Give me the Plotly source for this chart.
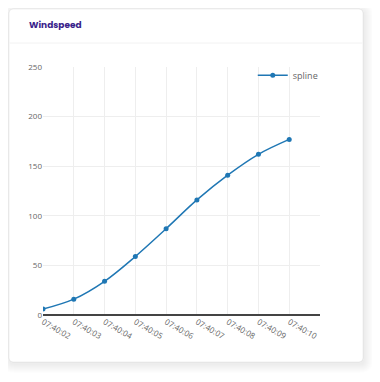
import plotly.graph_objects as go

times = ["07:40:02", "07:40:03", "07:40:04", "07:40:05", "07:40:06",
         "07:40:07", "07:40:08", "07:40:09", "07:40:10"]
windspeed = [6, 16, 34, 59, 87, 116, 141, 162, 177]
series_name = "spline"
chart_title = "Windspeed"

W, H = 364, 366
L, R, T, B = 35, 52, 59, 59
PW, PH = W - L - R, H - T - B


def px(x):
    return (x - L) / PW


def py(y):
    return (H - B - y) / PH


def rounded(x0, y0, x1, y1, r):
    pts = [
        f"M {px(x0 + r)},{py(y0)}",
        f"L {px(x1 - r)},{py(y0)}",
        f"Q {px(x1)},{py(y0)} {px(x1)},{py(y0 + r)}",
        f"L {px(x1)},{py(y1 - r)}",
        f"Q {px(x1)},{py(y1)} {px(x1 - r)},{py(y1)}",
        f"L {px(x0 + r)},{py(y1)}",
        f"Q {px(x0)},{py(y1)} {px(x0)},{py(y1 - r)}",
        f"L {px(x0)},{py(y0 + r)}",
        f"Q {px(x0)},{py(y0)} {px(x0 + r)},{py(y0)}",
        "Z",
    ]
    return " ".join(pts)


fig = go.Figure()
fig.add_trace(go.Scatter(
    x=list(range(len(times))), y=windspeed, name=series_name,
    mode="lines+markers", line=dict(shape="spline", color="#1f77b4", width=1.5),
    marker=dict(size=5, color="#1f77b4"), showlegend=True,
))

shapes = []
# soft card shadow
for o in range(9, 0, -1):
    shapes.append(dict(type="path", xref="paper", yref="paper",
                       path=rounded(1 - o + 1, 1 - o + 2, 355 + o + 1, 354 + o + 2, 4 + o),
                       fillcolor="rgba(0,0,0,0.009)", line=dict(width=0), layer="below"))
shapes.append(dict(type="path", xref="paper", yref="paper",
                   path=rounded(1, 1, 355, 354, 4),
                   fillcolor="white", line=dict(width=1, color="rgba(0,0,0,0.06)"), layer="below"))
shapes.append(dict(type="line", xref="paper", yref="paper",
                   x0=px(1.5), x1=px(354.5), y0=py(35), y1=py(35),
                   line=dict(width=1, color="#f2f2f2"), layer="below"))

fig.update_layout(
    width=W, height=H,
    margin=dict(l=L, r=R, t=T, b=B),
    paper_bgcolor="white", plot_bgcolor="rgba(0,0,0,0)",
    font=dict(family="Open Sans", size=9, color="#666"),
    shapes=shapes,
    annotations=[dict(text=f"<b>{chart_title}</b>", xref="paper", yref="paper",
                      x=px(19), y=py(16.5), xanchor="left", yanchor="middle",
                      showarrow=False, font=dict(family="Poppins, Inter", size=9, color="#3b1f8c"))],
    xaxis=dict(range=[0, 9], tickmode="array", tickvals=list(range(len(times))), ticktext=times,
               tickangle=30, showgrid=True, gridcolor="#eee", zeroline=False, showline=False,
               ticks="", tickfont=dict(size=8, color="#666")),
    yaxis=dict(range=[0, 250], dtick=50, showgrid=True, gridcolor="#eee", zeroline=True,
               zerolinecolor="#444", zerolinewidth=1.5, ticks="", tickfont=dict(size=8, color="#666")),
    legend=dict(x=1.01, xanchor="right", y=1.025, yanchor="top", bgcolor="rgba(0,0,0,0)",
                font=dict(size=9, color="#666")),
)

fig.write_html("out.html")
